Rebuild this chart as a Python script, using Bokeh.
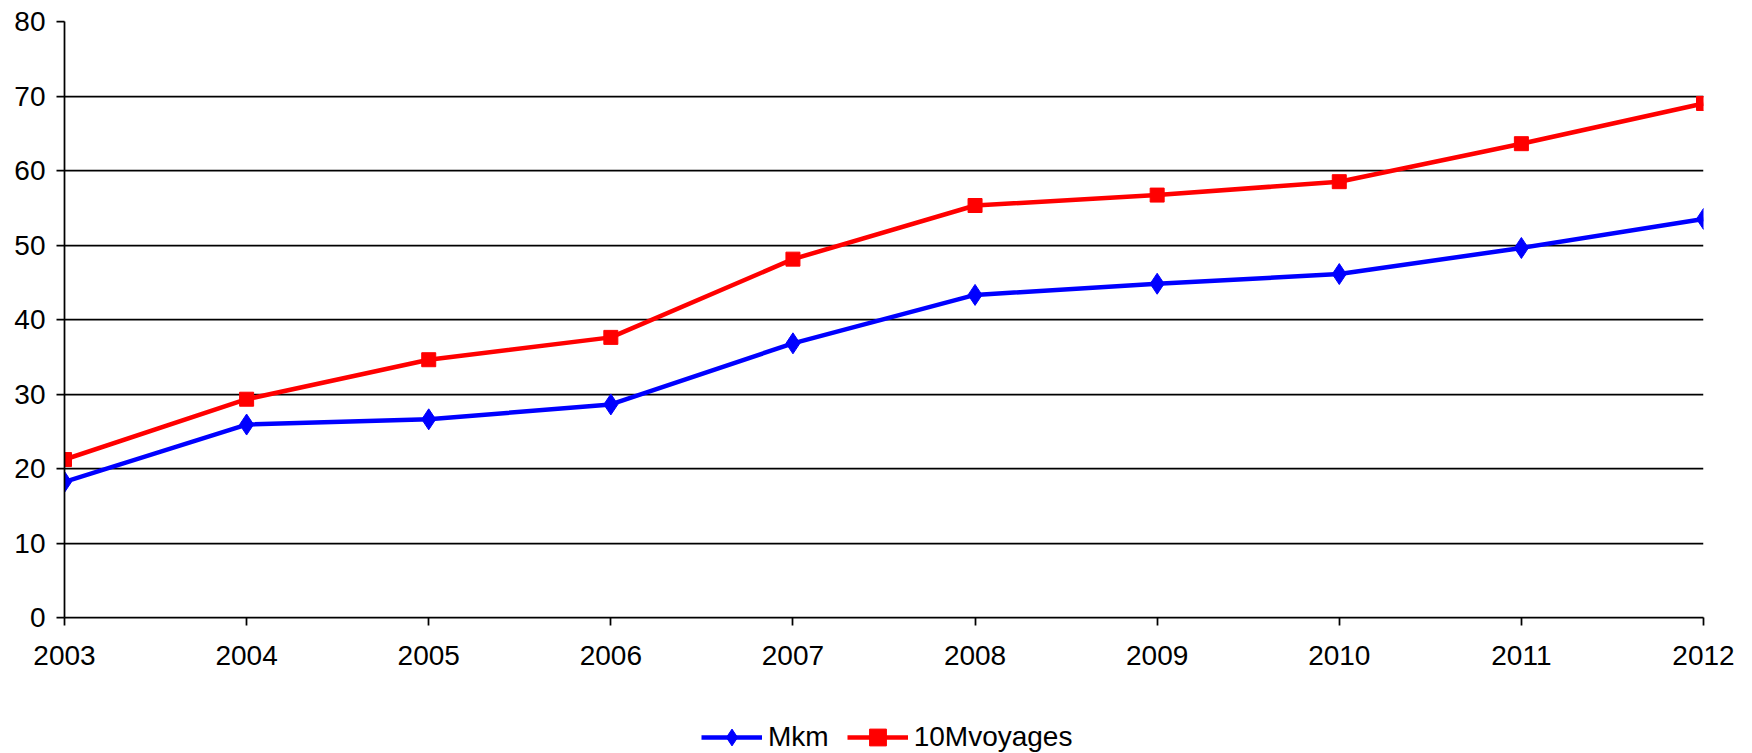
from bokeh.plotting import figure
from bokeh.layouts import column
from bokeh.models import FixedTicker, Legend, LegendItem, Range1d
from bokeh.embed import file_html
from bokeh.resources import INLINE

years = [2003, 2004, 2005, 2006, 2007, 2008, 2009, 2010, 2011, 2012]
mkm = [18.2, 25.9, 26.6, 28.6, 36.8, 43.3, 44.8, 46.1, 49.6, 53.5]
voyages_10m = [21.2, 29.3, 34.6, 37.6, 48.1, 55.3, 56.7, 58.5, 63.6, 69.0]
y_ticks = [0, 10, 20, 30, 40, 50, 60, 70, 80]

FONT = "Liberation Sans"
FONT_SIZE = "28px"
BLUE = "#0000FF"
RED = "#FF0000"
LINE_W = 4.5

MAIN_H = 690
LEGEND_H = 753 - MAIN_H

p = figure(
    width=1752, height=MAIN_H,
    output_backend="svg", toolbar_location=None,
    x_range=Range1d(2003, 2012), y_range=Range1d(0, 80),
    min_border_left=64, min_border_right=49,
    min_border_top=21, min_border_bottom=MAIN_H - 617,
)
p.outline_line_color = None
p.background_fill_color = "white"
p.border_fill_color = "white"

# axes
for ax in (p.xaxis[0], p.yaxis[0]):
    ax.axis_line_color = "black"
    ax.axis_line_width = 1.75
    ax.major_tick_line_color = "black"
    ax.major_tick_line_width = 1.75
    ax.major_tick_in = 0
    ax.major_tick_out = 8
    ax.minor_tick_line_color = None
    ax.major_label_text_font = FONT
    ax.major_label_text_font_size = FONT_SIZE
    ax.major_label_text_color = "black"

p.xaxis.ticker = FixedTicker(ticks=years)
p.yaxis.ticker = FixedTicker(ticks=y_ticks)
p.xaxis.major_label_standoff = 20
p.yaxis.major_label_standoff = 11

# horizontal gridlines only
p.xgrid.grid_line_color = None
p.ygrid.grid_line_color = "black"
p.ygrid.grid_line_width = 1.75

# series
p.line(years, mkm, line_color=BLUE, line_width=LINE_W)
p.scatter(years, mkm, marker="diamond", size=21, fill_color=BLUE, line_color=BLUE)
p.line(years, voyages_10m, line_color=RED, line_width=LINE_W)
p.scatter(years, voyages_10m, marker="square", size=14, fill_color=RED, line_color=RED)

# legend strip underneath the chart
lg = figure(
    width=1752, height=LEGEND_H,
    output_backend="svg", toolbar_location=None,
    x_range=Range1d(0, 1), y_range=Range1d(0, 1),
    min_border=0,
)
lg.axis.visible = False
lg.grid.visible = False
lg.outline_line_color = None
lg.background_fill_color = "white"
lg.border_fill_color = "white"

# key glyphs sit outside the strip's ranges, only the legend shows them
k1 = lg.line(years, mkm, line_color=BLUE, line_width=LINE_W)
k1m = lg.scatter(years, mkm, marker="diamond", size=21, fill_color=BLUE, line_color=BLUE)
k2 = lg.line(years, voyages_10m, line_color=RED, line_width=LINE_W)
k2m = lg.scatter(years, voyages_10m, marker="square", size=14, fill_color=RED, line_color=RED)

legend = Legend(
    items=[
        LegendItem(label="Mkm", renderers=[k1, k1m]),
        LegendItem(label="10Mvoyages", renderers=[k2, k2m]),
    ],
    orientation="horizontal",
    location=(637, LEGEND_H - (737 - MAIN_H) - 21),
    glyph_width=61, glyph_height=42,
    label_standoff=6, spacing=18,
    padding=0, margin=0,
    border_line_color=None, background_fill_alpha=0,
    label_text_font=FONT, label_text_font_size=FONT_SIZE,
    label_text_color="black",
)
lg.add_layout(legend, "center")

layout = column(p, lg, spacing=0)
open("out.html", "w").write(file_html(layout, INLINE))
